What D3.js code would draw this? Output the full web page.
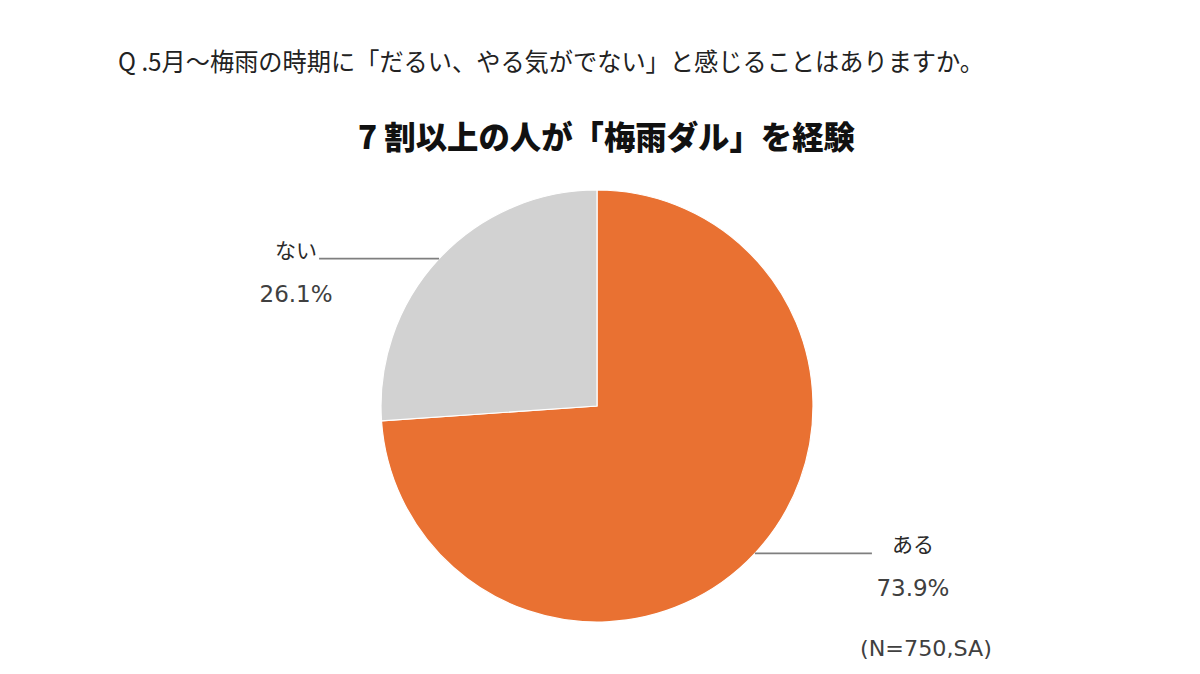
<!DOCTYPE html>
<html><head><meta charset="utf-8">
<script src="https://cdn.jsdelivr.net/npm/d3@7/dist/d3.min.js"></script>
<style>
html,body{margin:0;padding:0;background:#fff;}
svg{display:block;}
</style></head>
<body>
<svg id="c" width="1200" height="674"></svg>
<script>
const categories = ["ある", "ない"];
const values = [73.9, 26.1];
const colors = ["#E97132", "#D2D2D2"];
const question = "Q .5月～梅雨の時期に「だるい、やる気がでない」と感じることはありますか。";
const headline = "7 割以上の人が「梅雨ダル」を経験";
const note = "(N=750,SA)";

const svg = d3.select("#c");
const cx = 597, cy = 406, R = 216;
const jp = "'Noto Sans CJK JP', 'DejaVu Sans', sans-serif";
const lat = "'DejaVu Sans', 'Noto Sans CJK JP', sans-serif";

svg.append("text").attr("x", 118).attr("y", 71)
  .attr("font-family", jp).attr("font-size", 25).attr("fill", "#222")
  .attr("textLength", 866).attr("lengthAdjust", "spacingAndGlyphs")
  .text(question);

svg.append("text").attr("x", 358).attr("y", 149)
  .attr("font-family", jp).attr("font-size", 32).attr("font-weight", 900).attr("fill", "#111")
  .attr("textLength", 497).attr("lengthAdjust", "spacingAndGlyphs")
  .text(headline);

const data = categories.map((c, i) => ({cat: c, value: values[i], color: colors[i]}));
const pie = d3.pie().sort(null).value(d => d.value).startAngle(0).endAngle(2 * Math.PI);
const arc = d3.arc().innerRadius(0).outerRadius(R);
const arcs = pie(data);

const g = svg.append("g").attr("transform", `translate(${cx},${cy})`);
g.selectAll("path").data(arcs).join("path")
  .attr("d", arc).attr("fill", d => d.data.color)
  .attr("stroke", "#fff").attr("stroke-width", 1.2);

arcs.forEach(a => {
  const mid = (a.startAngle + a.endAngle) / 2;
  const px = Math.sin(mid) * R, py = -Math.cos(mid) * R;
  const right = px > 0;
  const ex = px + (right ? 117 : -120);
  g.append("line").attr("x1", px).attr("y1", py).attr("x2", ex).attr("y2", py)
    .attr("stroke", "#7f7f7f").attr("stroke-width", 1.6);
  const lx = right ? ex + 41 : ex - 23;
  g.append("text").attr("x", lx).attr("y", py - 1).attr("text-anchor", "middle")
    .attr("font-family", jp).attr("font-size", 21).attr("font-weight", 400).attr("fill", "#2a2a2a")
    .text(a.data.cat);
  g.append("text").attr("x", lx).attr("y", py + 43).attr("text-anchor", "middle")
    .attr("font-family", lat).attr("font-size", 23).attr("fill", "#404040")
    .text(d3.format(".1f")(a.data.value) + "%");
});

svg.append("text").attr("x", 860).attr("y", 656)
  .attr("font-family", lat).attr("font-size", 21).attr("fill", "#404040")
  .attr("textLength", 132).attr("lengthAdjust", "spacingAndGlyphs")
  .text(note);
</script>
</body></html>
